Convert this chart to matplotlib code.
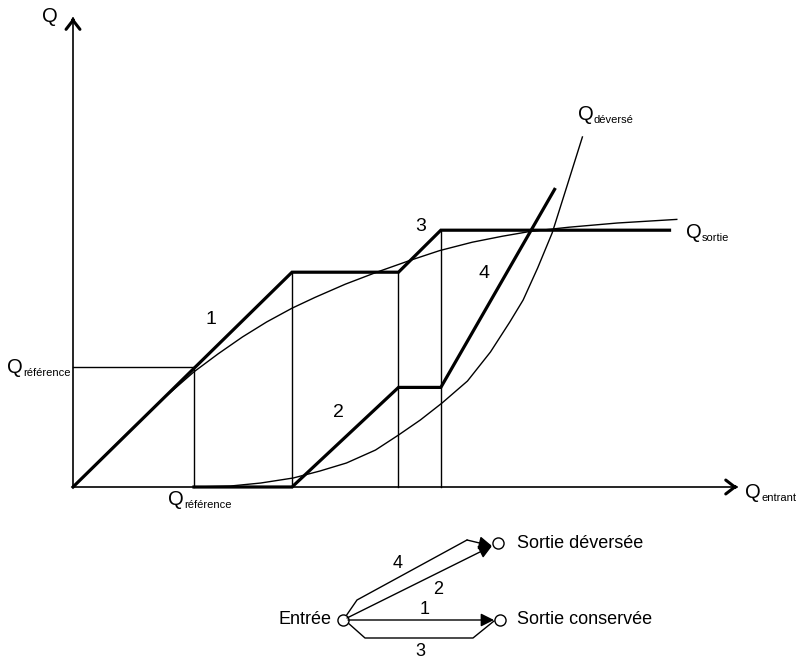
import matplotlib
matplotlib.use("Agg")
import matplotlib.pyplot as plt

plt.rcParams['font.family'] = ['Liberation Sans', 'DejaVu Sans']

# Q_entrant en abscisse, Q en ordonnée (unités : Q_référence = 1)
q_ref = 1.0
x_seuils = [1.0, 1.81, 2.69, 3.04]

# parcours 1 + 3 : débit conservé
cons_x = [0, 1.81, 2.69, 3.04, 4.93]
cons_y = [0, 1.79, 1.79, 2.14, 2.14]
# parcours 2 + 4 : débit déversé
dev_x = [1.0, 1.81, 2.69, 3.04, 3.98]
dev_y = [0, 0, 0.83, 0.83, 2.48]

sortie_x = [0, 0.25, 0.5, 0.75, 1.0, 1.2, 1.4, 1.6, 1.81, 2.0, 2.25, 2.51, 2.79,
            3.03, 3.3, 3.55, 3.78, 4.1, 4.5, 4.99]
sortie_y = [0, 0.25, 0.50, 0.74, 0.96, 1.11, 1.25, 1.375, 1.49, 1.58, 1.69, 1.79, 1.89,
            1.97, 2.04, 2.09, 2.13, 2.165, 2.20, 2.23]
deverse_x = [1.0, 1.30, 1.55, 1.82, 2.04, 2.26, 2.50, 2.69, 2.87, 3.05, 3.26, 3.45,
             3.61, 3.72, 3.84, 3.96, 4.08, 4.21]
deverse_y = [0, 0.008, 0.033, 0.075, 0.133, 0.20, 0.308, 0.433, 0.558, 0.70, 0.883, 1.125,
             1.375, 1.558, 1.825, 2.117, 2.50, 2.917]

num_labels = ['1', '2', '3', '4']
num_pos = [(1.14, 1.40), (2.19, 0.62), (2.87, 2.17), (3.40, 1.78)]

fig = plt.figure(figsize=(7.96, 6.61), dpi=100)
ax = fig.add_axes([0, 0, 1, 1])
ax.set_xlim(-73 / 121, 723 / 121)
ax.set_ylim(-174 / 120, 487 / 120)
ax.axis('off')

k = 'black'
thin = 1.0
thick = 2.3

# axes avec flèches ouvertes
x_end, y_end = 5.49, 3.91
ax.plot([0, x_end], [0, 0], color=k, lw=1.2)
ax.plot([0, 0], [0, y_end], color=k, lw=1.2)
head = dict(arrowstyle='->,head_length=0.65,head_width=0.5', color=k, lw=2.2,
            shrinkA=0, shrinkB=0)
ax.annotate('', xy=(x_end, 0), xytext=(x_end - 0.02, 0), arrowprops=head)
ax.annotate('', xy=(0, y_end), xytext=(0, y_end - 0.02), arrowprops=head)

# repères fins
ax.plot([0, q_ref], [q_ref, q_ref], color=k, lw=thin)
tops = [q_ref, cons_y[1], cons_y[2], cons_y[3]]
for xs, top in zip(x_seuils, tops):
    ax.plot([xs, xs], [0, top], color=k, lw=thin)

ax.plot(sortie_x, sortie_y, color=k, lw=thin)
ax.plot(deverse_x, deverse_y, color=k, lw=thin)
ax.plot(cons_x, cons_y, color=k, lw=thick, solid_joinstyle='miter')
ax.plot(dev_x, dev_y, color=k, lw=thick, solid_joinstyle='miter')

for lab, (tx, ty) in zip(num_labels, num_pos):
    ax.text(tx, ty, lab, fontsize=14, ha='center', va='center')

big = 14.5
small = 8


def q_label(x, y, sub):
    ax.text(x, y, 'Q', fontsize=big, ha='left', va='baseline')
    ax.annotate(sub, xy=(x, y), xytext=(0.79 * big, -2.5), textcoords='offset points',
                fontsize=small, ha='left', va='baseline')


ax.text(-0.19, 3.92, 'Q', fontsize=big, ha='center', va='center')
q_label(-0.545, 0.95, 'référence')
q_label(0.785, -0.15, 'référence')
q_label(5.066, 2.075, 'sortie')
q_label(4.174, 3.06, 'déversé')
q_label(5.555, -0.09, 'entrant')

# schéma des cheminements (coordonnées en pixels)
ax2 = fig.add_axes([0, 0, 1, 1])
ax2.set_xlim(0, 796)
ax2.set_ylim(661, 0)
ax2.axis('off')
ax2.patch.set_alpha(0)

entree = (343, 620)
sortie_dev = (498, 543)
sortie_cons = (500, 620)
tip_dev = (492, 546)
tip_cons = (494, 620)

arr = dict(arrowstyle='-|>,head_length=0.8,head_width=0.4', color=k, lw=1.0,
           shrinkA=0, shrinkB=0)
# 1
ax2.annotate('', xy=tip_cons, xytext=(348, 620), arrowprops=arr)
# 3
ax2.plot([347, 365, 473, tip_cons[0]], [622, 638, 638, 621], color=k, lw=1.0)
# 2
ax2.annotate('', xy=tip_dev, xytext=(347, 618), arrowprops=arr)
# 4
ax2.plot([346, 357, 467], [616, 600, 540], color=k, lw=1.0)
ax2.annotate('', xy=tip_dev, xytext=(467, 540), arrowprops=arr)

for node in (entree, sortie_dev, sortie_cons):
    ax2.plot(*node, marker='o', ms=8, mfc='white', mec=k, mew=1.0)

fs = 13
ax2.text(398, 563, '4', fontsize=fs, ha='center', va='center')
ax2.text(438, 590, '2', fontsize=fs, ha='center', va='center')
ax2.text(425, 610, '1', fontsize=fs, ha='center', va='center')
ax2.text(420, 652, '3', fontsize=fs, ha='center', va='center')
ax2.text(332, 620, 'Entrée', fontsize=fs, ha='right', va='center')
ax2.text(517, 543, 'Sortie déversée', fontsize=fs, ha='left', va='center')
ax2.text(517, 620, 'Sortie conservée', fontsize=fs, ha='left', va='center')

fig.savefig('out.png', dpi=100)
